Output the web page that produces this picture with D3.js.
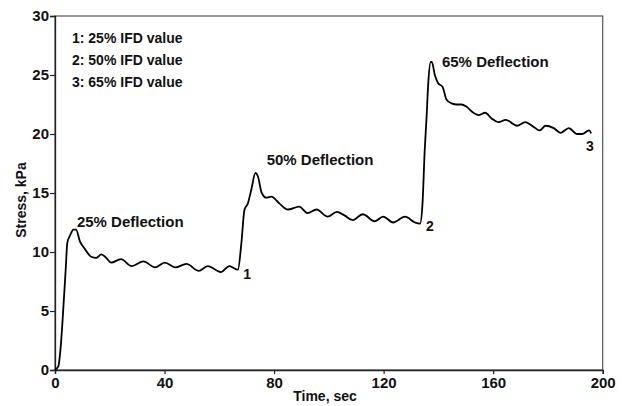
<!DOCTYPE html>
<html>
<head>
<meta charset="utf-8">
<script src="https://cdn.jsdelivr.net/npm/d3@7"></script>
<style>
  body { margin: 0; background: #fff; }
  text { font-family: "Liberation Sans", Arial, Helvetica, sans-serif; font-weight: bold; fill: #111; }
</style>
</head>
<body>
<div id="canvas"></div>
<script>
// data
const timeValues = [0, 1.2, 2.2, 3.0, 3.9, 4.5, 5.5, 6.7, 7.7, 9.1, 10.8, 13.2, 15.1, 16.9, 18.7, 20.5, 24.1, 28.0, 32.3, 36.5, 40.1, 44.0, 48.0, 52.5, 55.8, 60.5, 63.7, 66.8,
    68.0, 69.2, 70.4, 71.7, 73.2, 74.1, 75.5, 77.2, 79.0, 82.0, 85.0, 89.2, 92.2, 95.5, 99.6, 102.9, 105.7, 108.7, 112.4, 116.7, 119.8, 123.5, 127.8, 131.5, 133.3,
    134.2, 135.0, 135.7, 136.3, 137.2, 137.6, 138.7, 139.9, 141.5, 143.0, 144.8, 146.7, 148.5, 150.3, 152.8, 154.6, 157.1, 159.5, 162.0, 164.6, 168.7, 171.7, 174.8, 177.0, 179.1, 182.1, 184.6, 187.6, 190.7, 192.5, 195.0, 195.8];
const stressValues = [0, 0.3, 2.3, 5.1, 8.5, 10.8, 11.4, 11.9, 11.9, 10.9, 10.3, 9.6, 9.5, 9.8, 9.5, 9.1, 9.4, 8.8, 9.2, 8.7, 9.1, 8.7, 9.0, 8.4, 8.8, 8.3, 8.8, 8.5,
    10.6, 13.6, 14.1, 15.3, 16.7, 16.4, 15.0, 14.6, 14.7, 14.1, 13.6, 13.85, 13.3, 13.6, 13.0, 13.4, 13.1, 12.7, 13.2, 12.6, 13.0, 12.5, 13.0, 12.5, 12.4,
    14.1, 18.6, 21.5, 24.3, 26.1, 26.1, 25.0, 24.3, 24.0, 22.9, 22.6, 22.5, 22.5, 22.3, 21.8, 21.6, 21.8, 21.3, 21.0, 21.2, 20.7, 21.0, 20.6, 20.3, 20.7, 20.5, 20.1, 20.5, 20.0, 20.0, 20.3, 20.05];

const xTicks = [0, 40, 80, 120, 160, 200];
const yTicks = [0, 5, 10, 15, 20, 25, 30];

const legendLines = ["1: 25% IFD value", "2: 50% IFD value", "3: 65% IFD value"];

const noteTexts = ["25% Deflection", "50% Deflection", "65% Deflection", "1", "2", "3"];
const noteTimes = [8.0, 77.3, 141.3, 68.7, 135.5, 193.9];
const noteStress = [12.1, 17.4, 25.65, 7.7, 11.8, 18.6];

// canvas
const W = 622, H = 406;
const margin = {top: 16, right: 20, bottom: 36, left: 55};
const width = 602.7 - margin.left,
      height = 370 - margin.top;

const svg = d3.select("#canvas").append("svg")
    .attr("width", W)
    .attr("height", H);
const g = svg.append("g")
    .attr("transform", "translate(" + margin.left + "," + margin.top + ")");

const x = d3.scaleLinear().domain([0, 200]).range([0, width]);
const y = d3.scaleLinear().domain([0, 30]).range([height, 0]);

// frame
g.append("rect")
    .attr("x", 0).attr("y", 0)
    .attr("width", width).attr("height", height)
    .attr("fill", "none")
    .attr("stroke", "#555")
    .attr("stroke-width", 1.2);

// axes
const xAxis = g.append("g")
    .attr("transform", "translate(0," + height + ")")
    .call(d3.axisBottom(x).tickValues(xTicks).tickSize(4).tickPadding(3));
const yAxis = g.append("g")
    .call(d3.axisLeft(y).tickValues(yTicks).tickSize(5).tickPadding(1));
[xAxis, yAxis].forEach(a => {
    a.select(".domain").attr("stroke", "#222").attr("stroke-width", 1.3);
    a.selectAll(".tick line").attr("stroke", "#222").attr("stroke-width", 1.2);
    a.selectAll(".tick text")
        .style("font-family", "'Liberation Sans', Arial, sans-serif")
        .style("font-weight", "bold")
        .style("font-size", "15px")
        .attr("fill", "#111");
});

// axis titles
svg.append("text")
    .attr("x", 325).attr("y", 401)
    .attr("text-anchor", "middle")
    .style("font-size", "14px")
    .text("Time, sec");
svg.append("text")
    .attr("transform", "translate(26,200) rotate(-90)")
    .attr("text-anchor", "middle")
    .style("font-size", "14px")
    .text("Stress, kPa");

// curve
const points = timeValues.map((t, i) => [t, stressValues[i]]);
g.append("path")
    .datum(points)
    .attr("fill", "none")
    .attr("stroke", "#000")
    .attr("stroke-width", 1.8)
    .attr("stroke-linejoin", "round")
    .attr("d", d3.line()
        .curve(d3.curveMonotoneX)
        .x(d => x(d[0]))
        .y(d => y(d[1])));

// legend
g.selectAll(".legend")
    .data(legendLines)
    .join("text")
    .attr("class", "legend")
    .attr("x", 72 - margin.left)
    .attr("y", (d, i) => 43 - margin.top + i * 22)
    .style("font-size", "14px")
    .text(d => d);

// annotations
g.selectAll(".note")
    .data(noteTexts)
    .join("text")
    .attr("class", "note")
    .attr("x", (d, i) => x(noteTimes[i]))
    .attr("y", (d, i) => y(noteStress[i]))
    .style("font-size", (d, i) => i < 3 ? "15px" : "14px")
    .text(d => d);
</script>
</body>
</html>
